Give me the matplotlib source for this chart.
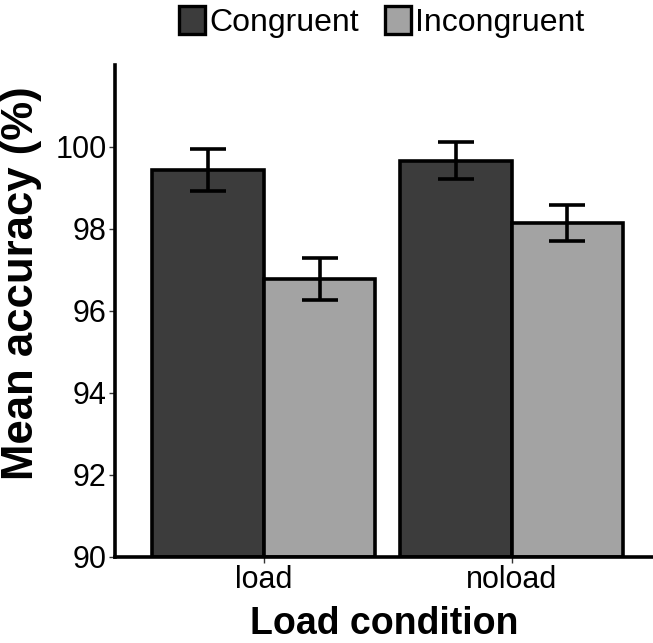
import numpy as np
import matplotlib
matplotlib.use("Agg")
import matplotlib.pyplot as plt
from matplotlib.patches import Patch

plt.rcParams['font.family'] = ['Liberation Sans', 'DejaVu Sans']

conditions = ['load', 'noload']
groups = ['Congruent', 'Incongruent']
congruent = [99.44, 99.67]
incongruent = [96.78, 98.15]
congruent_se = [0.52, 0.44]
incongruent_se = [0.51, 0.44]
colors = ['#3c3c3c', '#a3a3a3']

fig = plt.figure(figsize=(6.53, 6.43), dpi=100)
ax = fig.add_axes([115 / 653, 86 / 643, 1 - 115 / 653, 492 / 643])

x = np.arange(len(conditions))
w = 0.45
for i, (vals, se) in enumerate([(congruent, congruent_se), (incongruent, incongruent_se)]):
    pos = x + (i - 0.5) * w
    ax.bar(pos, np.array(vals) - 90, bottom=90, width=w, color=colors[i],
           edgecolor='black', linewidth=2.6, zorder=2)
    ax.errorbar(pos, vals, yerr=se, fmt='none', ecolor='black',
                elinewidth=2.6, capsize=13, capthick=2.6, zorder=3)

ax.set_ylim(90, 102)
ax.set_xlim(-0.6, 1.57)
ax.set_yticks([90, 92, 94, 96, 98, 100])
ax.set_xticks(x)
ax.set_xticklabels(conditions)
ax.tick_params(labelsize=22, length=4, width=1, colors='#333333', labelcolor='black', pad=2)
for s in ['top', 'right']:
    ax.spines[s].set_visible(False)
for s in ['left', 'bottom']:
    ax.spines[s].set_linewidth(2.6)
ax.set_ylabel('Mean accuracy (%)', fontsize=31.5, fontweight='bold')
# label's right edge sits ~42 px from the left border
ax.yaxis.set_label_coords(-73 / 538, 0.557)
ax.set_xlabel('Load condition', fontsize=27, fontweight='bold', labelpad=8)

handles = [Patch(facecolor=c, edgecolor='black', linewidth=2.4, label=g)
           for c, g in zip(colors, groups)]
fig.legend(handles=handles, loc='center', bbox_to_anchor=(382 / 653, 1 - 22 / 643),
           ncol=2, frameon=False, fontsize=23, handlelength=0.8, handleheight=1.0,
           handletextpad=0.15, columnspacing=0.8, borderaxespad=0)

fig.savefig('out.png', dpi=100)
